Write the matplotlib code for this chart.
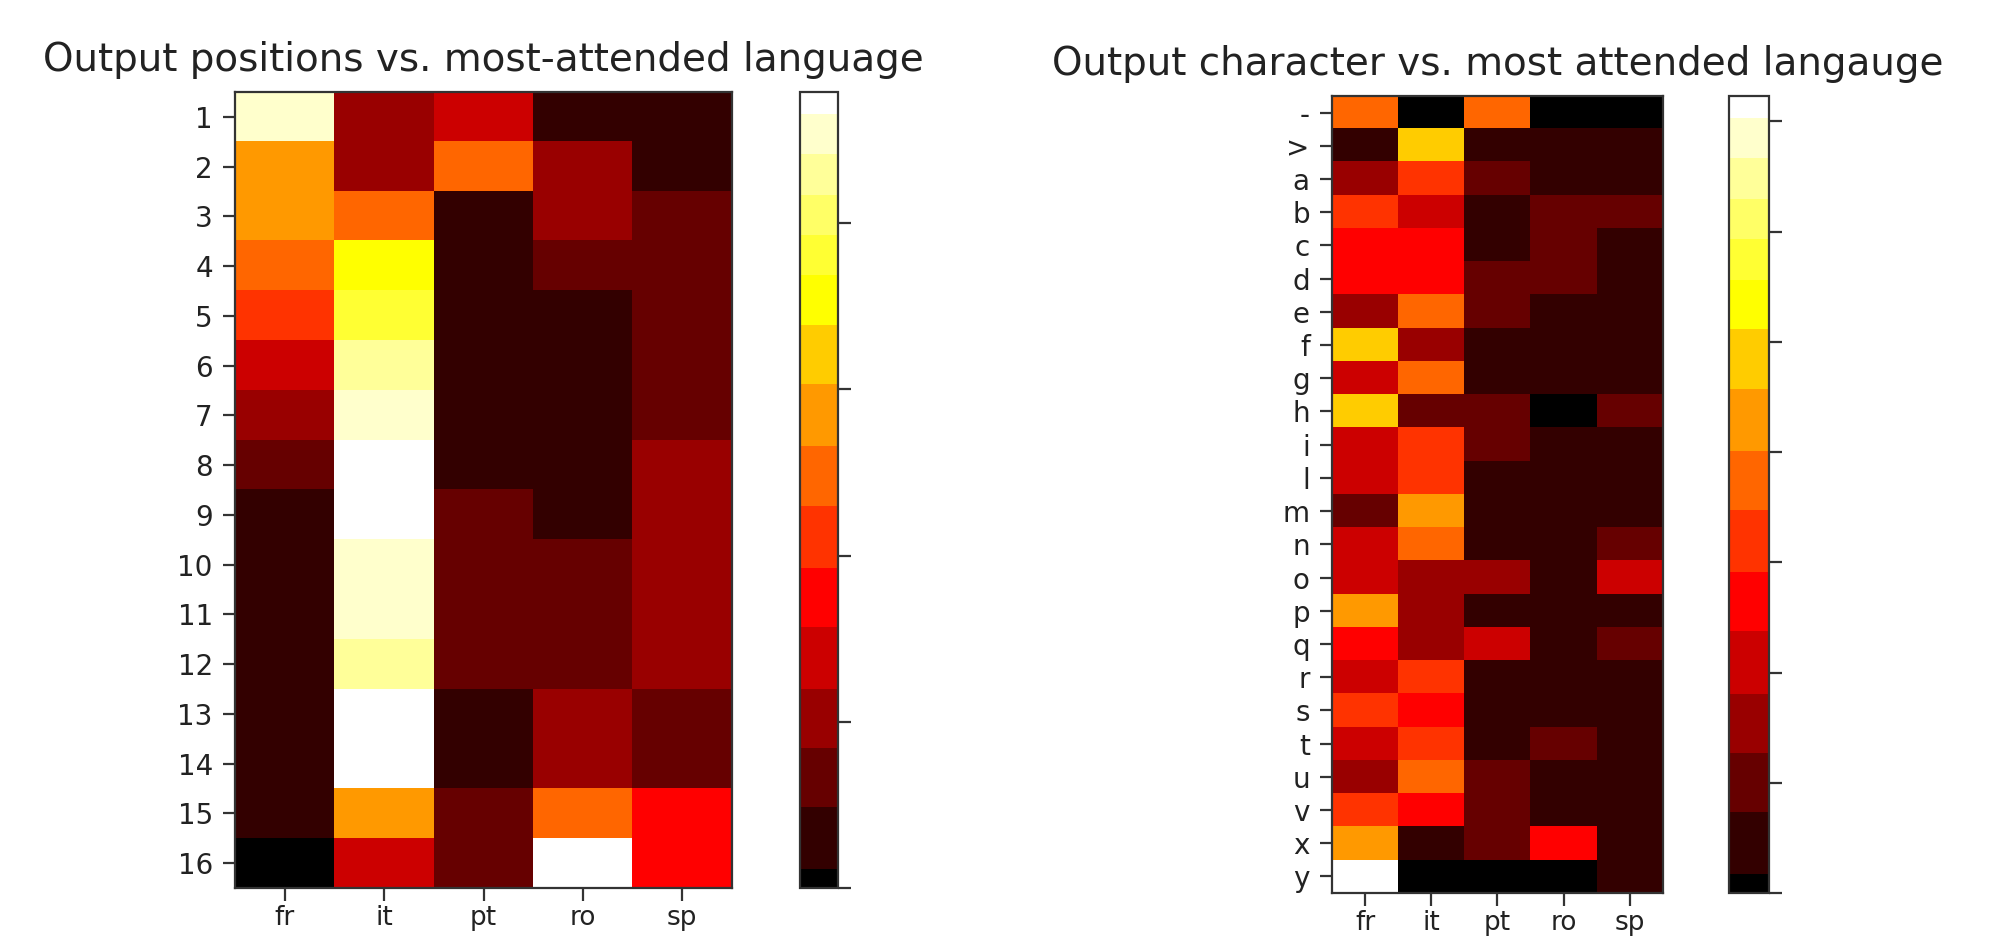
import numpy as np
import matplotlib
matplotlib.use("Agg")
import matplotlib.pyplot as plt
from matplotlib.colors import ListedColormap

# ---------------- data ----------------
languages = ["fr", "it", "pt", "ro", "sp"]
positions = [str(i) for i in range(1, 17)]
characters = ["-", ">", "a", "b", "c", "d", "e", "f", "g", "h", "i", "l",
              "m", "n", "o", "p", "q", "r", "s", "t", "u", "v", "x", "y"]

# attention share per output position (rows) and language (cols)
pos_fr = [0.227, 0.142, 0.142, 0.124, 0.106, 0.069, 0.051, 0.033, 0.014, 0.014, 0.014, 0.014, 0.014, 0.014, 0.014, 0.000]
pos_it = [0.051, 0.051, 0.124, 0.177, 0.191, 0.215, 0.227, 0.2395, 0.2395, 0.227, 0.227, 0.215, 0.2395, 0.2395, 0.142, 0.069]
pos_pt = [0.069, 0.124, 0.014, 0.014, 0.014, 0.014, 0.014, 0.014, 0.033, 0.033, 0.033, 0.033, 0.014, 0.014, 0.033, 0.033]
pos_ro = [0.014, 0.051, 0.051, 0.033, 0.014, 0.014, 0.014, 0.014, 0.014, 0.033, 0.033, 0.033, 0.051, 0.051, 0.124, 0.2395]
pos_sp = [0.014, 0.014, 0.033, 0.033, 0.033, 0.033, 0.033, 0.051, 0.051, 0.051, 0.051, 0.051, 0.033, 0.033, 0.087, 0.087]

# attention share per output character (rows) and language (cols)
chr_fr = [0.187, 0.022, 0.077, 0.159, 0.132, 0.132, 0.077, 0.242, 0.104, 0.242, 0.104, 0.104,
          0.049, 0.104, 0.104, 0.215, 0.132, 0.104, 0.159, 0.104, 0.077, 0.159, 0.215, 0.3615]
chr_it = [0.000, 0.242, 0.159, 0.104, 0.132, 0.132, 0.187, 0.077, 0.187, 0.049, 0.159, 0.159,
          0.215, 0.187, 0.077, 0.077, 0.077, 0.159, 0.132, 0.159, 0.187, 0.132, 0.022, 0.000]
chr_pt = [0.187, 0.022, 0.049, 0.022, 0.022, 0.049, 0.049, 0.022, 0.022, 0.049, 0.049, 0.022,
          0.022, 0.022, 0.077, 0.022, 0.104, 0.022, 0.022, 0.022, 0.049, 0.049, 0.049, 0.000]
chr_ro = [0.000, 0.022, 0.022, 0.049, 0.049, 0.049, 0.022, 0.022, 0.022, 0.000, 0.022, 0.022,
          0.022, 0.022, 0.022, 0.022, 0.022, 0.022, 0.022, 0.049, 0.022, 0.022, 0.132, 0.000]
chr_sp = [0.000, 0.022, 0.022, 0.049, 0.022, 0.022, 0.022, 0.022, 0.022, 0.049, 0.022, 0.022,
          0.022, 0.049, 0.104, 0.022, 0.049, 0.022, 0.022, 0.022, 0.022, 0.022, 0.022, 0.022]

pos_vmax = 0.2395
chr_vmax = 0.3615
pos_cbar_ticks = [0.0, 0.05, 0.10, 0.15, 0.20]
chr_cbar_ticks = [0.0, 0.05, 0.10, 0.15, 0.20, 0.25, 0.30, 0.35]

# ---------------- colormap (hot, reduced to a coarse palette) ----------------
base = plt.get_cmap("hot")(np.linspace(0, 1, 512))
base[:, :3] = np.round(base[:, :3] / 0.2) * 0.2
cmap = ListedColormap(np.clip(base, 0, 1))

pos_data = np.array([pos_fr, pos_it, pos_pt, pos_ro, pos_sp]).T
chr_data = np.array([chr_fr, chr_it, chr_pt, chr_ro, chr_sp]).T

W, H = 1989, 938
fig = plt.figure(figsize=(W / 100, H / 100), dpi=100)

def rect(x0, x1, ytop, ybot):
    return [x0 / W, (H - ybot) / H, (x1 - x0) / W, (ybot - ytop) / H]

text_color = "#222222"
spine_color = "#333333"

def style_axes(ax):
    for s in ax.spines.values():
        s.set_linewidth(1.6)
        s.set_edgecolor(spine_color)
    ax.tick_params(length=9, width=1.6, pad=7, labelsize=20, colors=text_color,
                   color=spine_color)
    ax.tick_params(axis="x", pad=3, labelsize=19)

ax1 = fig.add_axes(rect(235, 732, 92, 888))
im1 = ax1.imshow(pos_data, cmap=cmap, vmin=0, vmax=pos_vmax, aspect="auto",
                 interpolation="nearest")
ax1.set_xticks(range(len(languages)))
ax1.set_xticklabels(languages)
ax1.set_yticks(range(len(positions)))
ax1.set_yticklabels(positions)
style_axes(ax1)
ax1.set_title("Output positions vs. most-attended language", fontsize=28,
              pad=15, color=text_color)

cax1 = fig.add_axes(rect(800, 838, 92, 888))
cb1 = fig.colorbar(im1, cax=cax1)
cb1.set_ticks(pos_cbar_ticks)
cb1.set_ticklabels([])
cb1.outline.set_linewidth(1.6)
cb1.outline.set_edgecolor(spine_color)
cax1.tick_params(length=9, width=1.6, color=spine_color)

ax2 = fig.add_axes(rect(1332, 1663, 96, 893))
im2 = ax2.imshow(chr_data, cmap=cmap, vmin=0, vmax=chr_vmax, aspect="auto",
                 interpolation="nearest")
ax2.set_xticks(range(len(languages)))
ax2.set_xticklabels(languages)
ax2.set_yticks(range(len(characters)))
ax2.set_yticklabels(characters)
style_axes(ax2)
ax2.set_title("Output character vs. most attended langauge", fontsize=28,
              pad=15, color=text_color)

cax2 = fig.add_axes(rect(1729, 1769, 96, 893))
cb2 = fig.colorbar(im2, cax=cax2)
cb2.set_ticks(chr_cbar_ticks)
cb2.set_ticklabels([])
cb2.outline.set_linewidth(1.6)
cb2.outline.set_edgecolor(spine_color)
cax2.tick_params(length=9, width=1.6, color=spine_color)

fig.savefig("out.png", dpi=100)
